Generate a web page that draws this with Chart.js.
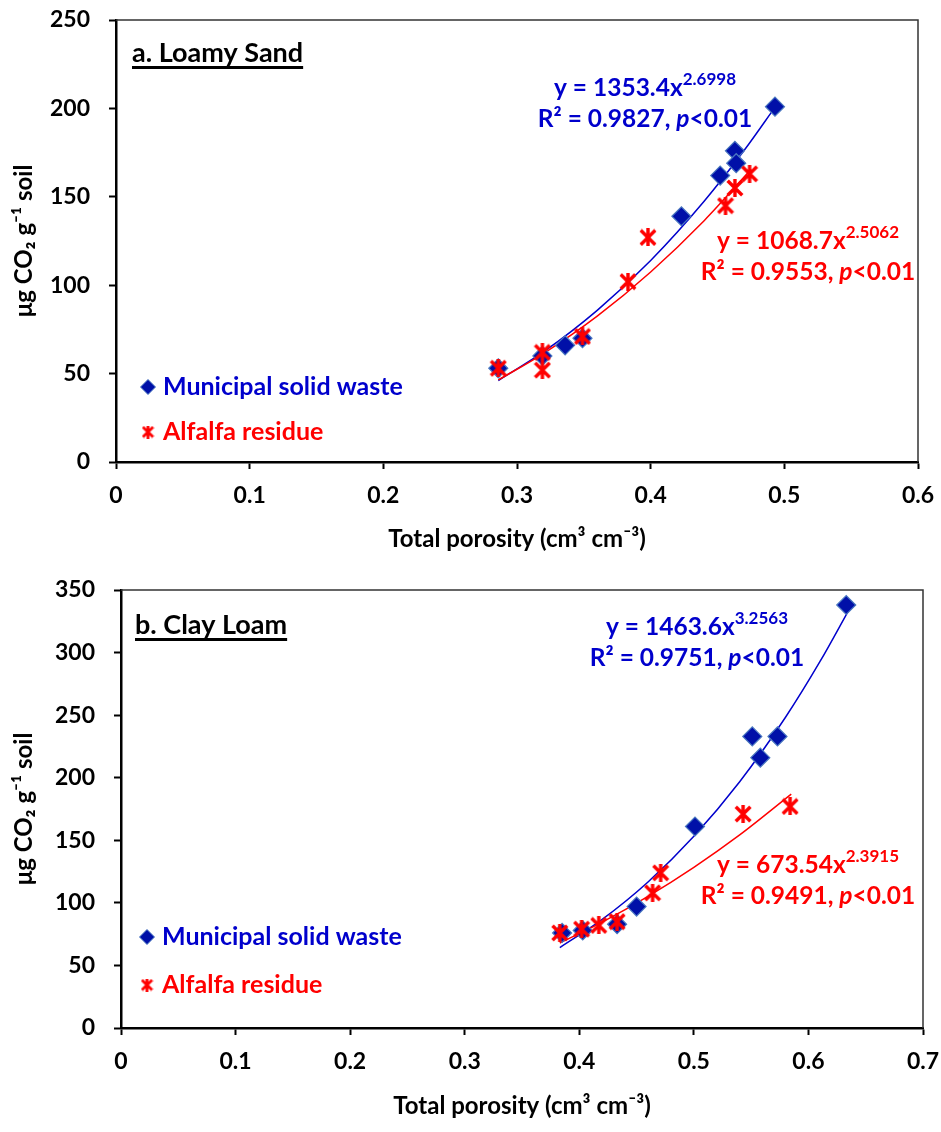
<!DOCTYPE html>
<html>
<head>
<meta charset="utf-8">
<script src="https://cdn.jsdelivr.net/npm/chart.js@4.4.1/dist/chart.umd.min.js"></script>
<style>
  html, body { margin: 0; padding: 0; background: #fff; }
  .panel { position: relative; width: 941px; }
  #panelA { height: 560px; }
  #panelB { height: 572px; }
</style>
</head>
<body>
<div class="panel" id="panelA"><canvas id="chartA"></canvas></div>
<div class="panel" id="panelB"><canvas id="chartB"></canvas></div>
<script>
// a. Loamy Sand
const sandMswX = [0.286, 0.319, 0.336, 0.349, 0.423, 0.452, 0.463, 0.464, 0.493];
const sandMswY = [53, 60, 66, 70, 139, 162, 176, 169, 201];
const sandAlfX = [0.286, 0.319, 0.319, 0.349, 0.383, 0.398, 0.456, 0.463, 0.474];
const sandAlfY = [53, 62, 52, 71, 102, 127, 145, 155, 163];
// fitted curves as drawn
const sandMswFitX = [0.286, 0.32, 0.36, 0.40, 0.44, 0.47, 0.494];
const sandMswFitY = [46.1, 62.4, 85.8, 114.0, 147.5, 176.3, 201.7];
const sandAlfFitX = [0.286, 0.32, 0.36, 0.40, 0.44, 0.475];
const sandAlfFitY = [46.4, 61.5, 82.5, 107.5, 136.5, 165.4];

// b. Clay Loam
const clayMswX = [0.385, 0.403, 0.433, 0.450, 0.501, 0.551, 0.558, 0.573, 0.633];
const clayMswY = [76, 78, 83, 97, 161, 233, 216, 233, 338];
const clayAlfX = [0.383, 0.402, 0.417, 0.433, 0.464, 0.471, 0.543, 0.584];
const clayAlfY = [76, 79, 82, 85, 108, 124, 171, 177];
const clayMswFitX = [0.383, 0.42, 0.46, 0.50, 0.54, 0.58, 0.61, 0.635];
const clayMswFitY = [64.3, 86.8, 116.7, 153.2, 196.8, 248.3, 292.7, 333.6];
const clayAlfFitX = [0.383, 0.42, 0.46, 0.50, 0.54, 0.585];
const clayAlfFitY = [67.9, 84.6, 105.2, 128.4, 154.3, 186.9];

const xTicksA = [0, 0.6];
const yTicksA = [0, 250];
const xTicksB = [0, 0.7];
const yTicksB = [0, 350];

const seriesNames = ['Municipal solid waste', 'Alfalfa residue'];

const BLUE = '#0000cc';
const RED = '#ff0000';
const FONT = 'Lato, "Open Sans", sans-serif';

const pts = (xs, ys) => xs.map((x, i) => ({x: x, y: ys[i]}));

/**
 * Excel style star marker: an X with a vertical bar.
 */
function starMarker(size, lw) {
    const c = document.createElement('canvas');
    c.width = size;
    c.height = size;
    const g = c.getContext('2d');
    g.strokeStyle = RED;
    g.lineWidth = lw;
    const m = lw / 2, e = size - lw / 2;
    g.beginPath();
    g.moveTo(m, m); g.lineTo(e, e);
    g.moveTo(e, m); g.lineTo(m, e);
    g.moveTo(size / 2, 0); g.lineTo(size / 2, size);
    g.stroke();
    return c;
}

const star = starMarker(18, 3.4);
const starSmall = starMarker(13, 2.8);

/**
 * Draw a line of text made of plain, superscript and italic parts, centred on cx.
 */
function drawRich(ctx, parts, cx, cy, size, color) {
    const fontFor = (k) => {
        const s = k === 'sup' ? Math.round(size * 0.68) : size;
        return (k === 'it' ? 'italic ' : '') + 'bold ' + s + 'px ' + FONT;
    };
    let w = 0;
    parts.forEach((p) => { ctx.font = fontFor(p[1]); w += ctx.measureText(p[0]).width; });
    let x = cx - w / 2;
    ctx.fillStyle = color;
    ctx.textAlign = 'left';
    ctx.textBaseline = 'middle';
    parts.forEach((p) => {
        ctx.font = fontFor(p[1]);
        const dy = p[1] === 'sup' ? -size * 0.36 : 0;
        ctx.fillText(p[0], x, cy + dy);
        x += ctx.measureText(p[0]).width;
    });
}

// frame, panel label, legend and equations
const decor = {
    id: 'decor',
    afterDraw(chart, args, o) {
        const ctx = chart.ctx;
        const a = chart.chartArea;
        ctx.save();

        ctx.strokeStyle = '#333';
        ctx.lineWidth = 1.5;
        ctx.beginPath();
        ctx.moveTo(a.left, a.top);
        ctx.lineTo(a.right, a.top);
        ctx.lineTo(a.right, a.bottom);
        ctx.stroke();

        // panel label, underlined
        ctx.font = 'bold 27px ' + FONT;
        ctx.fillStyle = '#000';
        ctx.textAlign = 'left';
        ctx.textBaseline = 'middle';
        ctx.fillText(o.label, o.labelX, o.labelY);
        const lw = ctx.measureText(o.label).width;
        ctx.fillRect(o.labelX, o.labelY + 13, lw, 3);

        // legend
        ctx.font = 'bold 25px ' + FONT;
        ctx.fillStyle = BLUE;
        ctx.fillText(seriesNames[0], o.legX + 15, o.legY[0]);
        ctx.fillStyle = RED;
        ctx.fillText(seriesNames[1], o.legX + 15, o.legY[1]);
        ctx.fillStyle = '#0010a8';
        ctx.strokeStyle = '#4a78c0';
        ctx.lineWidth = 1;
        ctx.beginPath();
        ctx.moveTo(o.legX, o.legY[0] - 7.5);
        ctx.lineTo(o.legX + 7.5, o.legY[0]);
        ctx.lineTo(o.legX, o.legY[0] + 7.5);
        ctx.lineTo(o.legX - 7.5, o.legY[0]);
        ctx.closePath();
        ctx.fill();
        ctx.stroke();
        ctx.drawImage(starSmall, o.legX - 6.5, o.legY[1] - 6.5);

        o.equations.forEach((eq) => {
            drawRich(ctx, eq.line1, eq.x, eq.y, 24.5, eq.color);
            drawRich(ctx, eq.line2, eq.x, eq.y + 31, 24.5, eq.color);
        });
        ctx.restore();
    }
};

function eqParts(a, b, r2) {
    return {
        line1: [['y = ' + a + 'x', ''], [b, 'sup']],
        line2: [['R\u00b2 = ' + r2 + ', ', ''], ['p', 'it'], ['<0.01', '']]
    };
}

/**
 * Build one scatter chart with two series and their power trend lines.
 */
function makeChart(id, d) {
    const tickFont = {family: FONT, size: 23, weight: 'bold'};
    const titleFont = {family: FONT, size: 24, weight: 'bold'};
    const grid = {drawOnChartArea: false, drawTicks: true, tickLength: 7, tickWidth: 2, tickColor: '#000'};
    const border = {display: true, width: 2.5, color: '#000'};

    return new Chart(document.getElementById(id), {
        type: 'scatter',
        data: {
            datasets: [
                {data: pts(d.alfX, d.alfY), pointStyle: star, pointRadius: 8, order: 0},
                {data: pts(d.mswX, d.mswY), pointStyle: 'rectRot', pointRadius: 9.5,
                    backgroundColor: '#0010a8', borderColor: '#4a78c0', borderWidth: 1.2, order: 1},
                {data: pts(d.alfFitX, d.alfFitY), showLine: true, pointRadius: 0, borderColor: RED,
                    borderWidth: 1.5, cubicInterpolationMode: 'monotone', order: 2},
                {data: pts(d.mswFitX, d.mswFitY), showLine: true, pointRadius: 0, borderColor: BLUE,
                    borderWidth: 1.5, cubicInterpolationMode: 'monotone', order: 3}
            ]
        },
        options: {
            responsive: true,
            maintainAspectRatio: false,
            animation: false,
            devicePixelRatio: 1,
            layout: {padding: d.pad},
            plugins: {
                legend: {display: false},
                tooltip: {enabled: false},
                decor: d.decor
            },
            scales: {
                x: {
                    type: 'linear',
                    min: d.xTicks[0],
                    max: d.xTicks[1],
                    grid: grid,
                    border: border,
                    ticks: {
                        stepSize: 0.1,
                        color: '#000',
                        font: tickFont,
                        padding: 13,
                        callback: (v) => (v === 0 ? '0' : v.toFixed(1))
                    },
                    title: {
                        display: true,
                        text: 'Total porosity (cm\u00b3 cm\u207b\u00b3)',
                        color: '#000',
                        font: titleFont,
                        padding: {top: 0, bottom: d.xTitlePad}
                    },
                    afterFit: (s) => {
                        s.height = d.xHeight;
                        s.paddingLeft = 0;
                        s.paddingRight = 0;
                    }
                },
                y: {
                    type: 'linear',
                    min: d.yTicks[0],
                    max: d.yTicks[1],
                    grid: grid,
                    border: border,
                    ticks: {stepSize: 50, color: '#000', font: tickFont, padding: 19},
                    title: {
                        display: true,
                        text: '\u03bcg CO\u2082 g\u207b\u00b9 soil',
                        color: '#000',
                        font: titleFont,
                        padding: {top: 10, bottom: 0}
                    },
                    afterFit: (s) => {
                        s.width = d.yWidth;
                        s.paddingTop = 0;
                        s.paddingBottom = 0;
                    }
                }
            }
        },
        plugins: [decor]
    });
}

const sandEqMsw = eqParts('1353.4', '2.6998', '0.9827');
const sandEqAlf = eqParts('1068.7', '2.5062', '0.9553');
const clayEqMsw = eqParts('1463.6', '3.2563', '0.9751');
const clayEqAlf = eqParts('673.54', '2.3915', '0.9491');

makeChart('chartA', {
    mswX: sandMswX, mswY: sandMswY, alfX: sandAlfX, alfY: sandAlfY,
    mswFitX: sandMswFitX, mswFitY: sandMswFitY, alfFitX: sandAlfFitX, alfFitY: sandAlfFitY,
    xTicks: xTicksA, yTicks: yTicksA,
    pad: {top: 20, right: 23, left: 0, bottom: 0},
    yWidth: 116, xHeight: 98, xTitlePad: 6,
    decor: {
        label: 'a. Loamy Sand', labelX: 132, labelY: 53,
        legX: 148, legY: [387, 432],
        equations: [
            Object.assign({x: 645, y: 88, color: BLUE}, sandEqMsw),
            Object.assign({x: 808, y: 241, color: RED}, sandEqAlf)
        ]
    }
});

makeChart('chartB', {
    mswX: clayMswX, mswY: clayMswY, alfX: clayAlfX, alfY: clayAlfY,
    mswFitX: clayMswFitX, mswFitY: clayMswFitY, alfFitX: clayAlfFitX, alfFitY: clayAlfFitY,
    xTicks: xTicksB, yTicks: yTicksB,
    pad: {top: 30, right: 18, left: 0, bottom: 0},
    yWidth: 121, xHeight: 104, xTitlePad: 11,
    decor: {
        label: 'b. Clay Loam', labelX: 135, labelY: 65,
        legX: 147, legY: [377, 425],
        equations: [
            Object.assign({x: 697, y: 67, color: BLUE}, clayEqMsw),
            Object.assign({x: 808, y: 305, color: RED}, clayEqAlf)
        ]
    }
});
</script>
</body>
</html>
